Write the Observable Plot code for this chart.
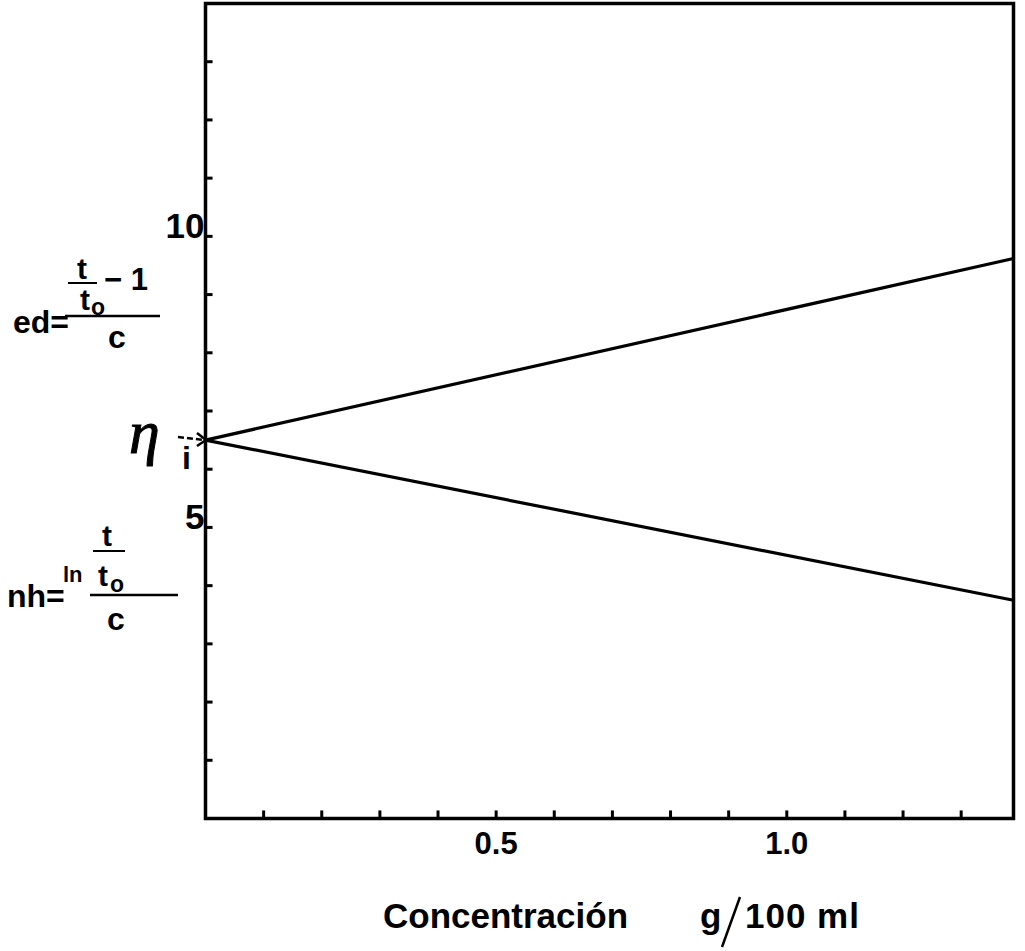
<!DOCTYPE html>
<html><head><meta charset="utf-8">
<script src="https://cdn.jsdelivr.net/npm/d3@7"></script>
<script src="https://cdn.jsdelivr.net/npm/@observablehq/plot@0.6"></script>
<style>html,body{margin:0;padding:0;background:#fff;} #chart svg{display:block}</style>
</head><body><div id="chart"></div>
<script>
// ---- data ----
const concentration = [0, 1.39];          // g/100 ml
const etaRed = [6.5, 9.62];               // (t/t0 - 1)/c
const etaInh = [6.5, 3.75];               // ln(t/t0)/c
const yTicks = [1, 2, 3, 4, 5, 6, 7, 8, 9, 10, 11, 12, 13];
const xTicks = [0.1, 0.2, 0.3, 0.4, 0.5, 0.6, 0.7, 0.8, 0.9, 1.0, 1.1, 1.2, 1.3];
const yTickLabels = [5, 10];
const xTickLabels = [0.5, 1.0];

const redData = concentration.map((c, i) => ({c, v: etaRed[i]}));
const inhData = concentration.map((c, i) => ({c, v: etaInh[i]}));

const font = "Liberation Sans, Arial, Helvetica, sans-serif";

const plot = Plot.plot({
  width: 1025,
  height: 951,
  marginLeft: 205,
  marginRight: 12,
  marginTop: 3,
  marginBottom: 133,
  style: {fontFamily: font, background: "#fff", color: "#000"},
  x: {domain: [0, 1.39], axis: null},
  y: {domain: [0, 14], axis: null},
  marks: [
    Plot.ruleY(yTicks, {y: d => d, x1: 0, x2: 0.013, stroke: "#000", strokeWidth: 3}),
    Plot.ruleX(xTicks, {x: d => d, y1: 0, y2: 0.13, stroke: "#000", strokeWidth: 3}),
    Plot.line(redData, {x: "c", y: "v", stroke: "#000", strokeWidth: 3.2}),
    Plot.line(inhData, {x: "c", y: "v", stroke: "#000", strokeWidth: 3.2}),
    Plot.frame({stroke: "#000", strokeWidth: 3.5}),
    Plot.text(yTickLabels, {x: 0, y: d => d, text: d => String(d), textAnchor: "end", dx: -1, dy: -10, fontSize: 35, fontWeight: "bold", fill: "#000"}),
    Plot.text(xTickLabels, {x: d => d, y: 0, text: d => d.toFixed(1), dy: 26, fontSize: 31, fontWeight: "bold", fill: "#000"})
  ]
});
document.getElementById("chart").appendChild(plot);

// ---- annotations ----
const svg = d3.select(plot);
const g = svg.append("g").attr("fill", "#000").attr("font-family", font)
  .attr("text-anchor", "start").attr("font-weight", "bold");
function txt(x, y, s, size, extra = {}) {
  const t = g.append("text").attr("x", x).attr("y", y).attr("font-size", size).text(s);
  for (const k in extra) t.attr(k, extra[k]);
  return t;
}
function seg(d, w = 2.5, extra = {}) {
  const p = g.append("path").attr("d", d).attr("fill", "none").attr("stroke", "#000").attr("stroke-width", w);
  for (const k in extra) p.attr(k, extra[k]);
  return p;
}

// reduced viscosity label
txt(13, 333, "ed=", 32);
txt(77, 279, "t", 30);
seg("M68,283H97", 2);
txt(80, 310, "t", 30);
txt(91, 315, "o", 23);
txt(104, 290, "− 1", 31);
seg("M65,316H160", 2.5);
txt(108, 348, "c", 32);

// inherent viscosity label
txt(7, 607, "nh=", 32);
txt(63, 582, "ln", 22);
txt(102, 546, "t", 30);
seg("M93,551H125", 2);
txt(98, 586, "t", 30);
txt(110, 592, "o", 23);
seg("M90,595H178", 2.5);
txt(107, 630, "c", 32);

// intrinsic viscosity
txt(129, 453, "η", 62, {"font-family": "Liberation Serif, DejaVu Serif, serif", "font-style": "italic", "font-weight": "normal", "stroke": "#000", "stroke-width": 1});
txt(182, 469, "i", 32);
seg("M178,437L205,440", 2.5, {"stroke-dasharray": "6,3"});
seg("M197,433L206,440L197,446", 2.5);

// x axis title
txt(383, 928, "Concentración", 35);
txt(700, 928, "g", 35);
seg("M740,897L722,947", 2.5);
txt(745, 928, "100 ml", 35, {"letter-spacing": "1px"});
</script>
</body></html>
